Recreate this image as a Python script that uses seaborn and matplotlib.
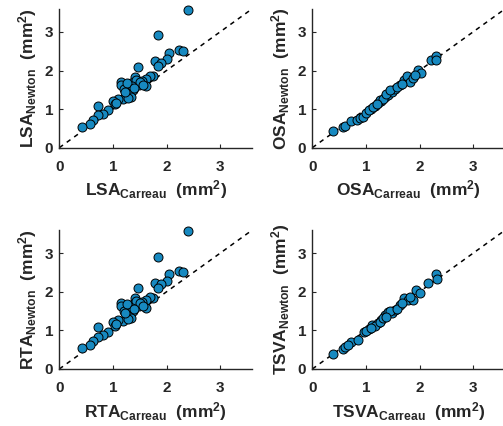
import numpy as np
import pandas as pd
import matplotlib
matplotlib.use('Agg')
import matplotlib.pyplot as plt
import seaborn as sns

sns.set_style('ticks')
plt.rcParams['font.family'] = ['Liberation Sans', 'DejaVu Sans']
plt.rcParams['mathtext.default'] = 'regular'

# LSA (top left)
lsa_carreau = [2.40, 1.84, 2.23, 2.31, 2.04, 2.01, 1.79, 1.90, 1.84, 1.46, 1.74, 1.70,
               1.61, 1.42, 1.54, 1.16, 1.16, 1.34, 1.30, 1.20, 1.48, 1.62, 1.38, 1.29,
               1.34, 1.19, 1.10, 1.01, 1.03, 0.73, 0.90, 0.82, 0.73, 0.62, 0.57, 0.42,
               1.44, 1.36, 1.26, 1.28, 1.05, 1.50, 1.57, 1.22, 1.40]
lsa_newton = [3.58, 2.91, 2.54, 2.51, 2.45, 2.29, 2.24, 2.19, 2.11, 2.09, 1.85, 1.87,
              1.78, 1.84, 1.74, 1.70, 1.63, 1.67, 1.57, 1.51, 1.62, 1.59, 1.49, 1.40,
              1.31, 1.25, 1.27, 1.21, 1.12, 1.08, 0.97, 0.88, 0.84, 0.73, 0.61, 0.54,
              1.76, 1.59, 1.68, 1.29, 1.17, 1.70, 1.62, 1.45, 1.55]

# RTA (bottom left) looks the same as LSA
rta_carreau = list(lsa_carreau)
rta_newton = list(lsa_newton)

# OSA (top right)
osa_carreau = [0.39, 0.57, 0.61, 0.73, 0.83, 0.89, 0.95, 1.01, 1.10, 1.17, 1.23, 1.29,
               1.35, 1.41, 1.48, 1.54, 1.63, 1.72, 1.77, 1.82, 1.88, 1.97, 2.03, 2.22,
               2.31, 2.31, 1.05, 1.14, 1.26, 1.32, 1.38, 1.45, 1.58, 1.68, 1.92, 1.20]
osa_newton = [0.42, 0.53, 0.56, 0.68, 0.72, 0.76, 0.80, 0.89, 1.00, 1.08, 1.15, 1.22,
              1.32, 1.37, 1.45, 1.52, 1.63, 1.76, 1.86, 1.71, 1.80, 2.02, 1.93, 2.26,
              2.38, 2.28, 0.98, 1.05, 1.24, 1.27, 1.40, 1.49, 1.58, 1.66, 1.88, 1.13]

# TSVA (bottom right)
tsva_carreau = [0.39, 0.57, 0.61, 0.73, 0.85, 0.97, 1.05, 1.12, 1.23, 1.29, 1.35, 1.41,
                1.48, 1.54, 1.63, 1.72, 1.78, 1.88, 1.93, 2.00, 2.16, 2.30, 2.33, 1.01,
                1.17, 1.26, 1.32, 1.45, 1.58, 1.68, 1.82, 0.66, 1.10, 1.38]
tsva_newton = [0.39, 0.53, 0.56, 0.71, 0.75, 0.96, 1.03, 1.14, 1.18, 1.27, 1.40, 1.48,
               1.44, 1.54, 1.65, 1.83, 1.78, 1.78, 2.04, 1.96, 2.23, 2.47, 2.32, 0.99,
               1.12, 1.22, 1.31, 1.50, 1.56, 1.70, 1.86, 0.62, 1.05, 1.35]

panels = [
    ('LSA', lsa_carreau, lsa_newton),
    ('OSA', osa_carreau, osa_newton),
    ('RTA', rta_carreau, rta_newton),
    ('TSVA', tsva_carreau, tsva_newton),
]
ticks = [0, 1, 2, 3]
lim = 3.6

W, H = 503, 426
fig = plt.figure(figsize=(W / 100, H / 100), dpi=100)
lefts = [59.3, 312.3]
bottoms = [147.7, 369.0]
ax_w = lim * 53.6
ax_h = lim * 38.6

for i, (name, xc, yn) in enumerate(panels):
    row, col = divmod(i, 2)
    ax = fig.add_axes([lefts[col] / W, 1 - bottoms[row] / H, ax_w / W, ax_h / H])
    df = pd.DataFrame({'carreau': xc, 'newton': yn})
    ax.axline((0, 0), slope=1, color='black', ls=(0, (3, 3)), lw=1.1, zorder=1)
    sns.scatterplot(data=df, x='carreau', y='newton', ax=ax, color='#1789c0',
                    edgecolor='black', linewidth=0.7, s=42, zorder=3, clip_on=False)
    ax.set_xlim(0, lim)
    ax.set_ylim(0, lim)
    ax.set_xticks(ticks)
    ax.set_yticks(ticks)
    sns.despine(ax=ax)
    for s in ['left', 'bottom']:
        ax.spines[s].set_linewidth(1.0)
        ax.spines[s].set_color('#262626')
    ax.tick_params(direction='in', length=3, width=0.8, labelsize=11,
                   colors='#262626')
    ax.tick_params(axis='x', pad=9)
    ax.tick_params(axis='y', pad=4.5)
    for lab in ax.get_xticklabels() + ax.get_yticklabels():
        lab.set_fontweight('bold')
    ax.set_xlabel(name + r'$_{Carreau}$  (mm$^{2}$)', fontsize=12.5,
                  fontweight='bold', color='#262626', labelpad=3)
    ax.set_ylabel(name + r'$_{Newton}$  (mm$^{2}$)', fontsize=12.5,
                  fontweight='bold', color='#262626', labelpad=4)

fig.savefig('out.png', dpi=100)
